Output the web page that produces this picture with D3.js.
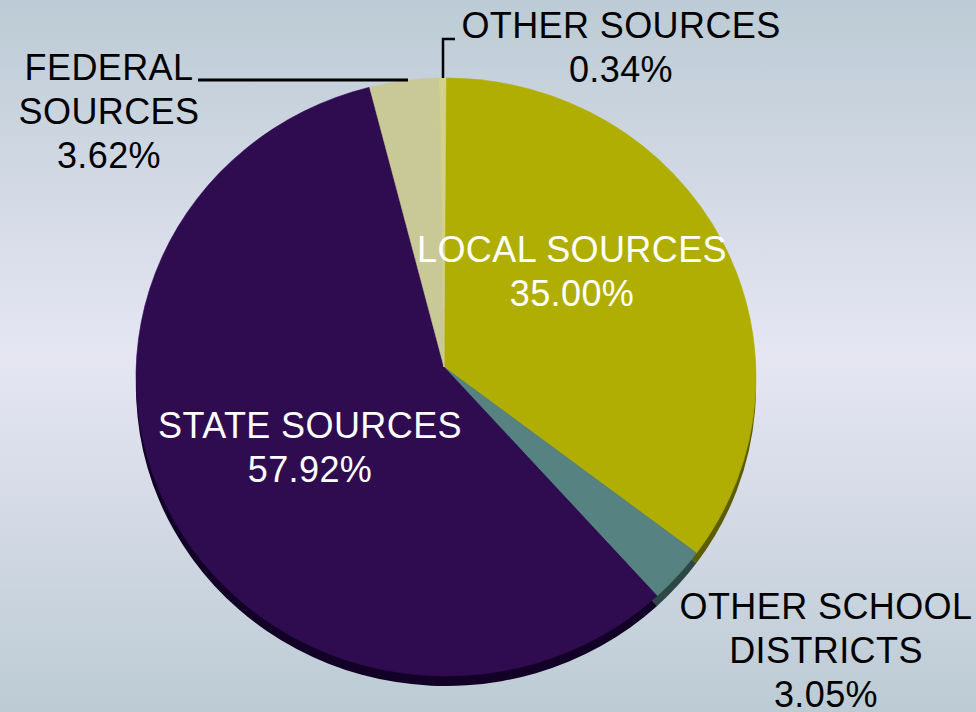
<!DOCTYPE html>
<html>
<head>
<meta charset="utf-8">
<script src="https://cdn.jsdelivr.net/npm/d3@7"></script>
<style>
  html, body { margin: 0; padding: 0; }
  body { width: 976px; height: 712px; overflow: hidden; }
  svg { display: block; font-family: "Liberation Sans", Arial, Helvetica, sans-serif; }
</style>
</head>
<body>
<div id="chart"></div>
<script>
// revenue by source (clockwise from 12 o'clock)
var categories = ["LOCAL SOURCES", "OTHER SCHOOL DISTRICTS", "STATE SOURCES", "FEDERAL SOURCES", "OTHER SOURCES"];
var values = [35.00, 3.05, 57.92, 3.62, 0.34];
var labelLines = [
  ["LOCAL SOURCES"],
  ["OTHER SCHOOL", "DISTRICTS"],
  ["STATE SOURCES"],
  ["FEDERAL", "SOURCES"],
  ["OTHER SOURCES"]
];

var colors = ["#b0ae03", "#568381", "#2f0c50", "#c9c897", "#d3d28a"];
var sideColors = ["#5e5c00", "#2c4745", "#130026", "#77764f", "#7a7948"];

var width = 976, height = 712;
var cx = 446, cy = 377, rx = 310, ry = 299, depth = 10;
var apex = [444, 367]; // tilted view: slices meet a bit above the ellipse centre

// label placement: [x, first baseline, inside pie?]
var labelPos = {
  "LOCAL SOURCES": [572, 262, true],
  "OTHER SCHOOL DISTRICTS": [826, 619, false],
  "STATE SOURCES": [310, 438, true],
  "FEDERAL SOURCES": [109, 80, false],
  "OTHER SOURCES": [621, 38, false]
};
var lineGap = 44;

var data = categories.map(function(c, i) {
  return {name: c, value: values[i], lines: labelLines[i], color: colors[i], side: sideColors[i]};
});

var svg = d3.select("#chart").append("svg")
  .attr("width", width)
  .attr("height", height);

// background gradient
var defs = svg.append("defs");
var bg = defs.append("linearGradient")
  .attr("id", "bg").attr("x1", 0).attr("y1", 0).attr("x2", 0).attr("y2", 1);
bg.append("stop").attr("offset", "0%").attr("stop-color", "#bccbd5");
bg.append("stop").attr("offset", "50%").attr("stop-color", "#e6e6f3");
bg.append("stop").attr("offset", "100%").attr("stop-color", "#bccbd4");

svg.append("rect")
  .attr("width", width).attr("height", height)
  .attr("fill", "url(#bg)");

var pie = d3.pie()
  .sort(null)
  .value(function(d) { return d.value; });

var arcs = pie(data);

// point on the rim for a pie angle
function rim(a, dy) {
  return [cx + rx * Math.sin(a), cy + (dy || 0) - ry * Math.cos(a)];
}

function slicePath(d, dy) {
  dy = dy || 0;
  var p0 = rim(d.startAngle, dy), p1 = rim(d.endAngle, dy);
  var large = d.endAngle - d.startAngle > Math.PI ? 1 : 0;
  return "M" + apex[0] + "," + (apex[1] + dy) +
    "L" + p0[0] + "," + p0[1] +
    "A" + rx + "," + ry + " 0 " + large + ",1 " + p1[0] + "," + p1[1] + "Z";
}

// pie side (thickness), drawn below the top face
svg.append("g")
  .selectAll("path")
  .data(arcs)
  .enter().append("path")
  .attr("d", function(d) { return slicePath(d, depth); })
  .attr("fill", function(d) { return d.data.side; });

// top face
svg.append("g")
  .selectAll("path")
  .data(arcs)
  .enter().append("path")
  .attr("d", function(d) { return slicePath(d, 0); })
  .attr("fill", function(d) { return d.data.color; })
  .attr("stroke", function(d) { return d.data.color; })
  .attr("stroke-width", 0.6);

// leader lines for the small outside labels
var leaders = svg.append("g")
  .attr("fill", "none")
  .attr("stroke", "#000");

leaders.append("polyline")
  .attr("points", "198,80 408,80")
  .attr("stroke-width", 3);

leaders.append("polyline")
  .attr("points", "443,78 443,39 455,39")
  .attr("stroke-width", 2.5);

// labels
var labels = svg.append("g")
  .selectAll("text")
  .data(data)
  .enter().append("text")
  .attr("text-anchor", "middle")
  .attr("font-size", 36)
  .attr("letter-spacing", 0.4)
  .attr("fill", function(d) { return labelPos[d.name][2] ? "#fff" : "#000"; });

labels.each(function(d) {
  var p = labelPos[d.name];
  var t = d3.select(this);
  var lines = d.lines.concat([d.value.toFixed(2) + "%"]);
  lines.forEach(function(l, i) {
    t.append("tspan")
      .attr("x", p[0])
      .attr("y", p[1] + i * lineGap)
      .text(l);
  });
});
</script>
</body>
</html>
